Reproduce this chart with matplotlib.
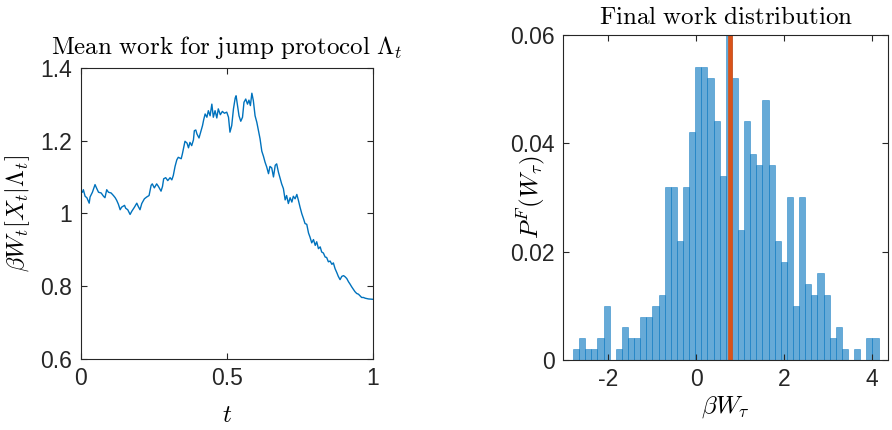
import matplotlib
matplotlib.use("Agg")
import matplotlib.pyplot as plt
import numpy as np

plt.rcParams['mathtext.fontset'] = 'cm'
plt.rcParams['font.family'] = ['Liberation Sans', 'DejaVu Sans']
plt.rcParams['axes.unicode_minus'] = False

# mean work curve
t_vals = [0.000, 0.006, 0.009, 0.015, 0.021, 0.029, 0.032, 0.040, 0.049, 0.055,
          0.061, 0.070, 0.078, 0.083, 0.089, 0.095, 0.104, 0.112, 0.118, 0.123,
          0.129, 0.135, 0.140, 0.150, 0.154, 0.161, 0.169, 0.175, 0.184, 0.192,
          0.197, 0.203, 0.209, 0.218, 0.226, 0.234, 0.241, 0.245, 0.252, 0.260,
          0.266, 0.275, 0.280, 0.284, 0.291, 0.298, 0.306, 0.312, 0.317, 0.323,
          0.329, 0.334, 0.344, 0.348, 0.357, 0.364, 0.369, 0.374, 0.380, 0.386,
          0.389, 0.394, 0.398, 0.405, 0.412, 0.417, 0.421, 0.426, 0.432, 0.437,
          0.443, 0.449, 0.454, 0.460, 0.466, 0.471, 0.478, 0.485, 0.492, 0.500,
          0.506, 0.511, 0.517, 0.523, 0.529, 0.532, 0.537, 0.542, 0.548, 0.554,
          0.559, 0.565, 0.571, 0.576, 0.581, 0.586, 0.591, 0.597, 0.603, 0.608,
          0.614, 0.620, 0.626, 0.631, 0.637, 0.643, 0.648, 0.654, 0.660, 0.666,
          0.671, 0.677, 0.683, 0.688, 0.694, 0.700, 0.705, 0.711, 0.717, 0.723,
          0.728, 0.734, 0.740, 0.745, 0.751, 0.757, 0.763, 0.768, 0.774, 0.780,
          0.785, 0.791, 0.797, 0.803, 0.808, 0.814, 0.820, 0.825, 0.831, 0.837,
          0.842, 0.848, 0.854, 0.860, 0.865, 0.871, 0.877, 0.882, 0.888, 0.894,
          0.900, 0.905, 0.911, 0.917, 0.922, 0.928, 0.934, 0.939, 0.945, 0.951,
          0.957, 0.962, 0.968, 0.974, 0.985, 1.000]
w_mean = [1.063, 1.058, 1.065, 1.047, 1.043, 1.028, 1.045, 1.058, 1.079, 1.068,
          1.058, 1.056, 1.047, 1.043, 1.065, 1.058, 1.056, 1.049, 1.043, 1.036,
          1.025, 1.010, 1.017, 1.022, 1.014, 1.010, 0.997, 1.006, 1.017, 1.028,
          1.019, 1.010, 1.027, 1.040, 1.045, 1.049, 1.077, 1.081, 1.070, 1.081,
          1.074, 1.061, 1.074, 1.095, 1.098, 1.090, 1.098, 1.092, 1.104, 1.129,
          1.147, 1.154, 1.150, 1.163, 1.198, 1.193, 1.180, 1.195, 1.186, 1.202,
          1.227, 1.229, 1.218, 1.207, 1.227, 1.241, 1.257, 1.273, 1.264, 1.282,
          1.268, 1.300, 1.264, 1.282, 1.262, 1.287, 1.271, 1.280, 1.275, 1.278,
          1.264, 1.223, 1.241, 1.287, 1.317, 1.323, 1.296, 1.268, 1.253, 1.264,
          1.305, 1.314, 1.300, 1.311, 1.296, 1.330, 1.310, 1.268, 1.250, 1.229,
          1.205, 1.171, 1.156, 1.141, 1.127, 1.109, 1.129, 1.125, 1.100, 1.132,
          1.136, 1.113, 1.095, 1.081, 1.068, 1.037, 1.049, 1.027, 1.043, 1.031,
          1.047, 1.040, 1.052, 1.037, 1.017, 0.999, 0.985, 0.972, 0.970, 0.946,
          0.935, 0.919, 0.928, 0.912, 0.922, 0.903, 0.908, 0.894, 0.891, 0.880,
          0.879, 0.867, 0.869, 0.860, 0.864, 0.848, 0.837, 0.827, 0.818, 0.827,
          0.829, 0.826, 0.821, 0.812, 0.806, 0.798, 0.791, 0.785, 0.780, 0.778,
          0.773, 0.769, 0.769, 0.767, 0.765, 0.764]

# final work histogram (counts out of 500 samples, 50 bins)
n_samples = 500
bin_start = -2.81
bin_width = 0.1394
counts = [1, 2, 1, 1, 2, 5, 0, 1, 3, 2,
          2, 4, 4, 5, 6, 16, 16, 11, 16, 21,
          27, 27, 26, 22, 17, 30, 26, 12, 22, 19,
          18, 24, 18, 11, 9, 15, 5, 15, 7, 6,
          8, 6, 2, 3, 1, 0, 1, 0, 2, 2]
mean_final = 0.77

blue = (0, 0.447, 0.741)
orange = (0.85, 0.325, 0.098)
axcol = (0.15, 0.15, 0.15)

fig = plt.figure(figsize=(8.92, 4.3), dpi=100)
ax1 = fig.add_axes([0.0905, 0.1651, 0.3274, 0.6774])
ax2 = fig.add_axes([0.6315, 0.1628, 0.3643, 0.7565])

def style(ax):
    for s in ax.spines.values():
        s.set_color(axcol)
        s.set_linewidth(0.8)
    ax.tick_params(direction='in', top=True, right=True, length=4,
                   width=0.8, color=axcol, labelsize=16.5, labelcolor=axcol, pad=6)

ax1.plot(t_vals, w_mean, color=blue, lw=1.0)
ax1.set_xlim(0, 1)
ax1.set_ylim(0.6, 1.4)
ax1.set_xticks([0, 0.5, 1])
ax1.set_xticklabels(['0', '0.5', '1'])
ax1.set_yticks([0.6, 0.8, 1.0, 1.2, 1.4])
ax1.set_yticklabels(['0.6', '0.8', '1', '1.2', '1.4'])
style(ax1)
ax1.set_title(r'$\mathrm{Mean\ work\ for\ jump\ protocol}\ \Lambda_t$', fontsize=18, pad=10)
ax1.set_xlabel(r'$t$', fontsize=18)
ax1.set_ylabel(r'$\beta W_t[X_t|\Lambda_t]$', fontsize=17.5)
ax1.xaxis.set_label_coords(0.5, -0.15)
ax1.yaxis.set_label_coords(-0.167, 0.5)

edges = bin_start + bin_width * np.arange(len(counts) + 1)
probs = np.array(counts) / n_samples
for i, p in enumerate(probs):
    if p > 0:
        ax2.bar(edges[i], p, width=bin_width, align='edge',
                facecolor=blue + (0.6,), edgecolor=blue + (0.5,), lw=0.6)
ax2.plot([mean_final, mean_final], [0, 0.06], color=orange, lw=3.4)
ax2.set_xlim(-3.03, 4.38)
ax2.set_ylim(0, 0.06)
ax2.set_xticks([-2, 0, 2, 4])
ax2.set_yticks([0, 0.02, 0.04, 0.06])
ax2.set_yticklabels(['0', '0.02', '0.04', '0.06'])
style(ax2)
ax2.set_title('$\\mathrm{Final\\ work\\ distribution}$', fontsize=18, pad=8)
ax2.set_xlabel(r'$\beta W_\tau$', fontsize=18)
ax2.set_ylabel(r'$P^F(W_\tau)$', fontsize=18)
ax2.xaxis.set_label_coords(0.5, -0.105)
ax2.yaxis.set_label_coords(-0.05, 0.5)

fig.savefig('out.png', dpi=100)
